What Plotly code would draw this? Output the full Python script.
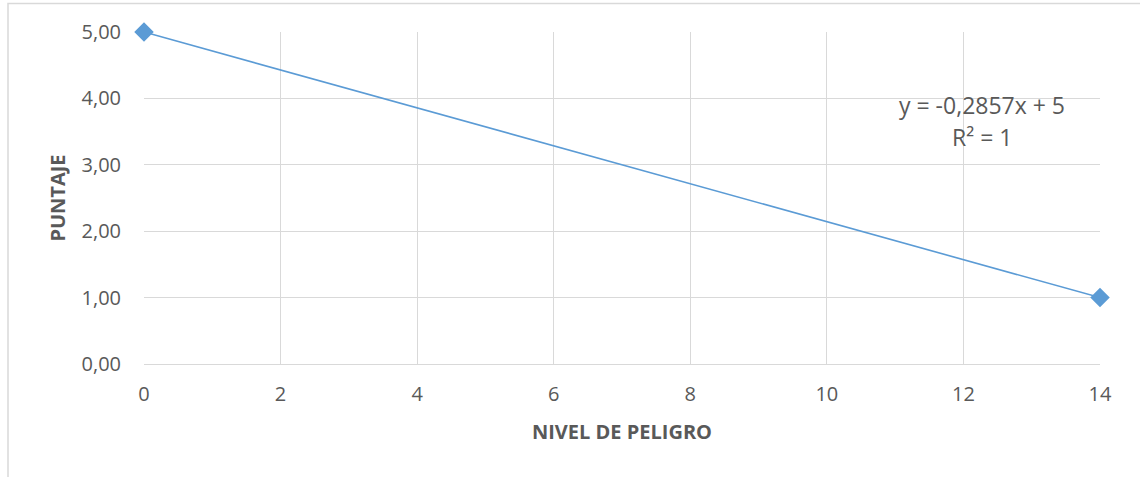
import plotly.graph_objects as go

# Puntaje asignado según el nivel de peligro
nivel_peligro = [0, 14]
puntaje = [5.00, 1.00]

x_ticks = [0, 2, 4, 6, 8, 10, 12, 14]
y_ticks = [0, 1, 2, 3, 4, 5]

ecuacion = "y = -0,2857x + 5"
r2 = "R² = 1"

FONT = "Open Sans"
GRAY_TXT = "#595959"
GRID = "#d9d9d9"

fig = go.Figure()
fig.add_trace(go.Scatter(
    x=nivel_peligro, y=puntaje,
    mode="lines+markers",
    line=dict(color="#5B9BD5", width=1.6),
    marker=dict(symbol="diamond", size=15, color="#5B9BD5"),
    cliponaxis=False,
    showlegend=False,
    hoverinfo="skip",
))

fig.update_layout(
    width=1140, height=477,
    margin=dict(l=144, r=40, t=32, b=113),
    paper_bgcolor="white", plot_bgcolor="white",
    separators=",.",
    font=dict(family=FONT, color=GRAY_TXT, size=20),
    xaxis=dict(
        range=[0, 14], tickvals=x_ticks, showgrid=True, gridcolor=GRID, gridwidth=1.2,
        zeroline=False, showline=True, linecolor=GRID, linewidth=1.2,
        ticks="", ticklabelstandoff=12,
        tickfont=dict(family=FONT, size=20, color=GRAY_TXT),
        title=dict(text="<b>NIVEL DE PELIGRO</b>", font=dict(family=FONT, size=20, color=GRAY_TXT), standoff=18),
    ),
    yaxis=dict(
        range=[0, 5], tickvals=y_ticks, tickformat=".2f", showgrid=True, gridcolor=GRID, gridwidth=1.2,
        zeroline=False, showline=False,
        ticks="", ticklabelstandoff=22,
        tickfont=dict(family=FONT, size=20, color=GRAY_TXT),
        title=dict(text="<b>PUNTAJE</b>", font=dict(family=FONT, size=20, color=GRAY_TXT), standoff=10),
    ),
)

# Etiqueta de la línea de tendencia
fig.add_annotation(x=12.27, y=3.9, xref="x", yref="y", text=ecuacion, showarrow=False,
                   font=dict(family=FONT, size=23, color=GRAY_TXT))
fig.add_annotation(x=12.27, y=3.42, xref="x", yref="y", text=r2, showarrow=False,
                   font=dict(family=FONT, size=23, color=GRAY_TXT))

# Borde del área del gráfico
W, H = 1140, 477
pw, ph = W - 144 - 40, H - 32 - 113
fig.add_shape(type="rect", xref="paper", yref="paper",
              x0=(8 - 144) / pw, x1=(W + 10 - 144) / pw,
              y0=-(113 + 10) / ph, y1=1 + (32 - 3.5) / ph,
              line=dict(color=GRID, width=1.5), fillcolor="rgba(0,0,0,0)", layer="below")

fig.write_html("out.html")
